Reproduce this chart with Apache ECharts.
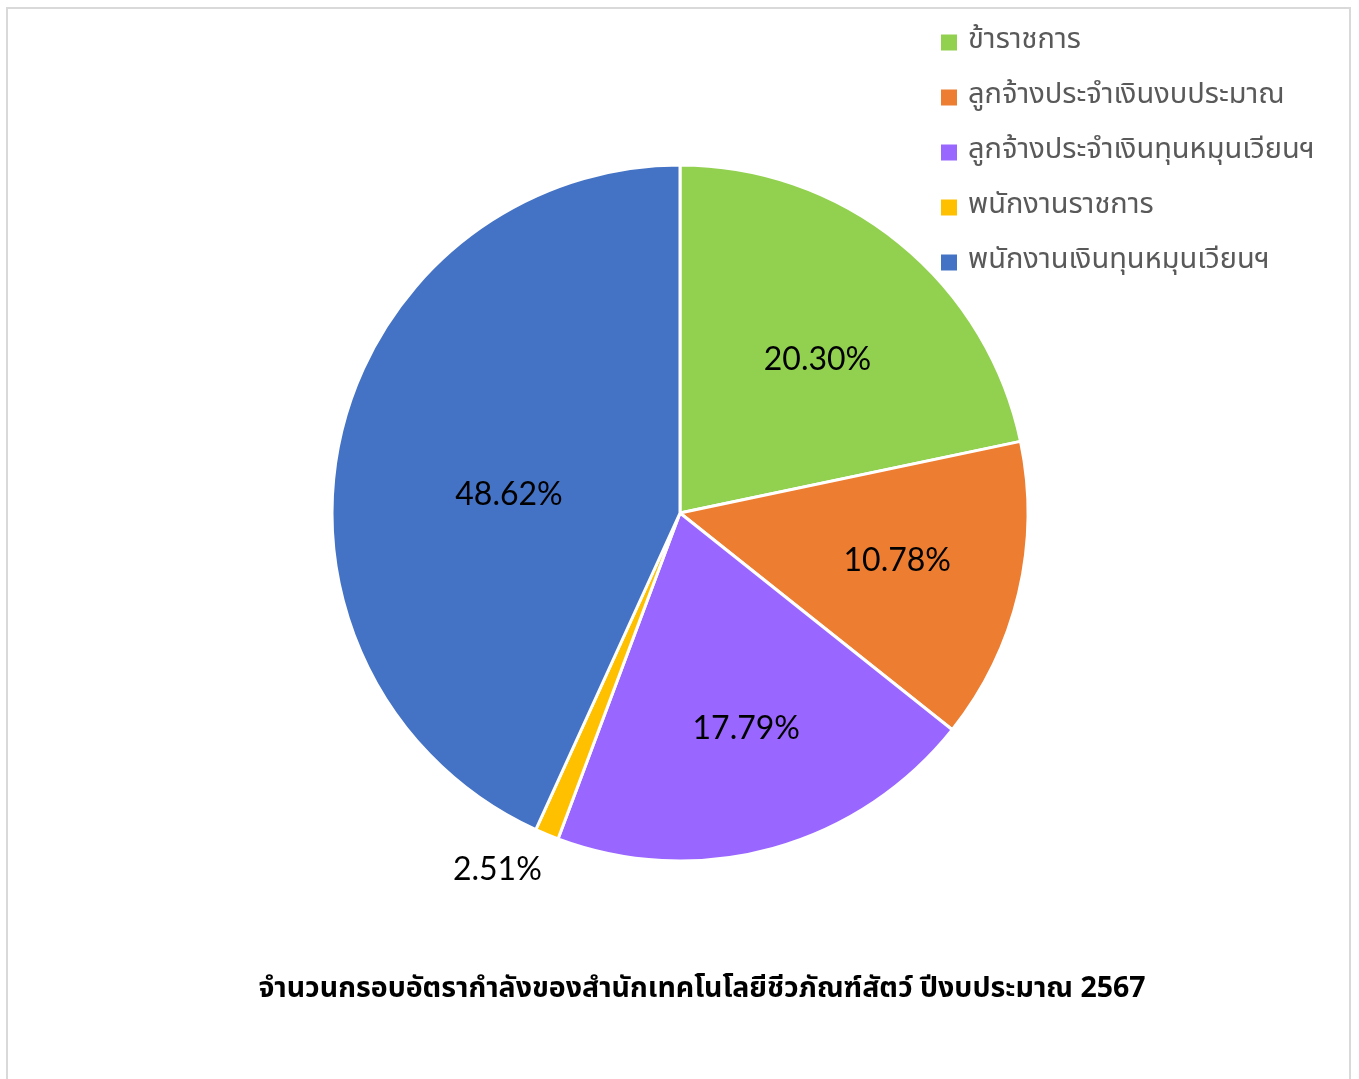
<!DOCTYPE html>
<html>
<head>
<meta charset="utf-8">
<script src="https://cdn.jsdelivr.net/npm/echarts@6/dist/echarts.min.js"></script>
<style>
  html, body { margin: 0; padding: 0; background: #fff; }
  #frame { position: absolute; left: 6px; top: 7px; width: 1345px; height: 1100px; border: 2px solid #d9d9d9; box-sizing: border-box; }
  #chart { position: absolute; left: 0; top: 0; width: 1359px; height: 1079px; }
</style>
</head>
<body>
<div id="frame"></div>
<div id="chart"></div>
<script>
// categories (legend order)
const categories = [
  "ข้าราชการ",
  "ลูกจ้างประจำเงินงบประมาณ",
  "ลูกจ้างประจำเงินทุนหมุนเวียนฯ",
  "พนักงานราชการ",
  "พนักงานเงินทุนหมุนเวียนฯ"
];
// slice sizes as drawn (share of the circle, %)
const sliceValues = [21.7, 14.0, 20.0, 1.1, 43.2];
// data label text printed on the chart
const labelTexts = ["20.30%", "10.78%", "17.79%", "2.51%", "48.62%"];
const colors = ["#92D050", "#ED7D31", "#9966FF", "#FFC000", "#4472C4"];
const titleText = "จำนวนกรอบอัตรากำลังของสำนักเทคโนโลยีชีวภัณฑ์สัตว์ ปีงบประมาณ 2567";

// nudge labels toward where the original puts them
const labelOffsets = [[26, -16], [45, 7], [19, 45], [8, 4], [2, 19]];

const thaiFont = "'Noto Sans Thai', 'Tahoma', 'Leelawadee UI', sans-serif";

const myChart = echarts.init(document.getElementById("chart"), null, { renderer: "canvas" });

const option = {
  animation: false,
  color: colors,
  title: {
    text: titleText,
    left: 697,
    textAlign: "center",
    top: 972,
    textStyle: { fontFamily: thaiFont, fontSize: 28.5, fontWeight: "bold", color: "#000" }
  },
  legend: {
    orient: "vertical",
    left: 939,
    top: 28,
    padding: 0,
    itemWidth: 18,
    itemHeight: 18,
    itemGap: 26,
    icon: "rect",
    data: categories,
    textStyle: { fontFamily: thaiFont, fontSize: 29, color: "#595959", padding: [0, 0, 0, 5] }
  },
  series: [
    {
      name: "กรอบอัตรากำลัง",
      type: "pie",
      center: [680, 513],
      radius: 348,
      startAngle: 90,
      clockwise: true,
      avoidLabelOverlap: false,
      itemStyle: { borderColor: "#fff", borderWidth: 3 },
      label: {
        show: true,
        position: "inside",
        fontFamily: "Lato, 'Open Sans', sans-serif",
        fontSize: 32,
        color: "#000"
      },
      labelLine: { show: false },
      data: categories.map((name, i) => {
        const item = {
          name: name,
          value: sliceValues[i],
          label: { formatter: labelTexts[i], offset: labelOffsets[i] }
        };
        if (i === 3) {
          item.label = {
            formatter: labelTexts[i],
            position: "outside",
            distanceToLabelLine: 0,
            offset: labelOffsets[i]
          };
          item.labelLine = { show: false, length: 34, length2: 0 };
        }
        return item;
      })
    }
  ]
};

myChart.setOption(option);
</script>
</body>
</html>
